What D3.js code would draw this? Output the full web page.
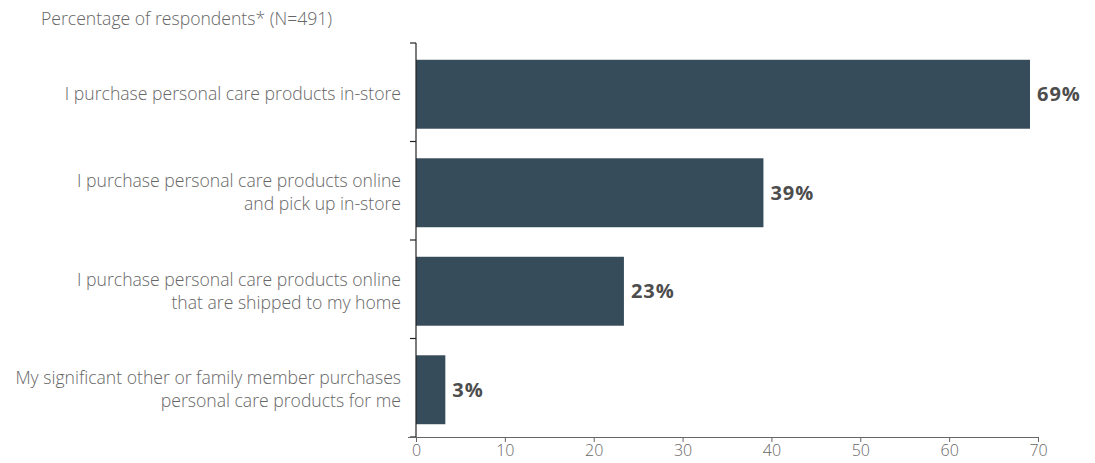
<!DOCTYPE html>
<html>
<head>
<meta charset="utf-8">
<script src="https://cdn.jsdelivr.net/npm/d3@7"></script>
<style>
  html, body { margin: 0; padding: 0; background: #fff; }
  svg { display: block; font-family: "Open Sans", sans-serif; }
</style>
</head>
<body>
<div id="chart"></div>
<script>
// Chart data
const categories = [
    ['I purchase personal care products in-store'],
    ['I purchase personal care products online', 'and pick up in-store'],
    ['I purchase personal care products online', 'that are shipped to my home'],
    ['My significant other or family member purchases', 'personal care products for me']
];
const values = [69.1, 39.1, 23.4, 3.3];
const valueLabels = ['69%', '39%', '23%', '3%'];
const xTicks = [0, 10, 20, 30, 40, 50, 60, 70];
const title = 'Percentage of respondents* (N=491)';

const width = 1095, height = 463;
const margin = { top: 43, right: 57, bottom: 26, left: 416 };

const svg = d3.select('#chart')
    .append('svg')
    .attr('width', width)
    .attr('height', height);

const keys = categories.map((c, i) => i);

const x = d3.scaleLinear()
    .domain([0, 70])
    .range([margin.left, width - margin.right]);

const y = d3.scaleBand()
    .domain(keys)
    .range([margin.top, height - margin.bottom])
    .paddingInner(0.3)
    .paddingOuter(0.15);

// Title
svg.append('text')
    .attr('x', 41)
    .attr('y', 25)
    .attr('fill', '#666')
    .style('font-size', '17.6px')
    .style('font-weight', 300)
    .text(title);

// Bars
svg.append('g')
    .selectAll('rect')
    .data(values)
    .join('rect')
    .attr('x', x(0))
    .attr('y', (d, i) => y(i) + 2)
    .attr('width', d => x(d) - x(0))
    .attr('height', y.bandwidth())
    .attr('fill', '#374c5b');

// Value labels
svg.append('g')
    .selectAll('text')
    .data(values)
    .join('text')
    .attr('x', d => x(d) + 7)
    .attr('y', (d, i) => y(i) + 2 + y.bandwidth() / 2)
    .attr('dy', '0.36em')
    .attr('fill', '#4d4d4d')
    .style('font-size', '20px')
    .style('font-weight', 'bold')
    .style('letter-spacing', '1px')
    .text((d, i) => valueLabels[i]);

// Category labels
const catG = svg.append('g');
categories.forEach((lines, i) => {
    const cy = y(i) + 2 + y.bandwidth() / 2;
    const lh = 23;
    const t = catG.append('text')
        .attr('text-anchor', 'end')
        .attr('fill', '#666')
        .style('font-size', '17.6px')
        .style('font-weight', 300);
    lines.forEach((line, j) => {
        t.append('tspan')
            .attr('x', 401)
            .attr('y', cy + (j - (lines.length - 1) / 2) * lh)
            .attr('dy', '0.35em')
            .text(line);
    });
});

// Y axis with ticks at band boundaries
const yAxisG = svg.append('g');
yAxisG.append('line')
    .attr('x1', x(0)).attr('x2', x(0))
    .attr('y1', margin.top).attr('y2', height - margin.bottom)
    .attr('stroke', '#222').attr('stroke-width', 1.2);
const bounds = keys.map(k => y(k) - y.step() * y.paddingInner() / 2)
    .concat([height - margin.bottom]);
yAxisG.selectAll('.ytick')
    .data(bounds)
    .join('line')
    .attr('x1', x(0) - 6).attr('x2', x(0))
    .attr('y1', d => d).attr('y2', d => d)
    .attr('stroke', '#222').attr('stroke-width', 1.2);

// X axis
const xAxis = d3.axisBottom(x)
    .tickValues(xTicks)
    .tickSize(5)
    .tickPadding(3)
    .tickSizeOuter(0);

const xg = svg.append('g')
    .attr('transform', `translate(0,${height - margin.bottom})`)
    .call(xAxis);
xg.select('.domain')
    .attr('d', `M${x(0) - 8},0.5H${x(70)}`)
    .attr('stroke', '#666');
xg.selectAll('.tick line').attr('stroke', '#666');
xg.selectAll('.tick text')
    .attr('fill', '#666')
    .style('font-size', '16px')
    .style('font-weight', 300)
    .style('font-family', '"Open Sans", sans-serif');
</script>
</body>
</html>
